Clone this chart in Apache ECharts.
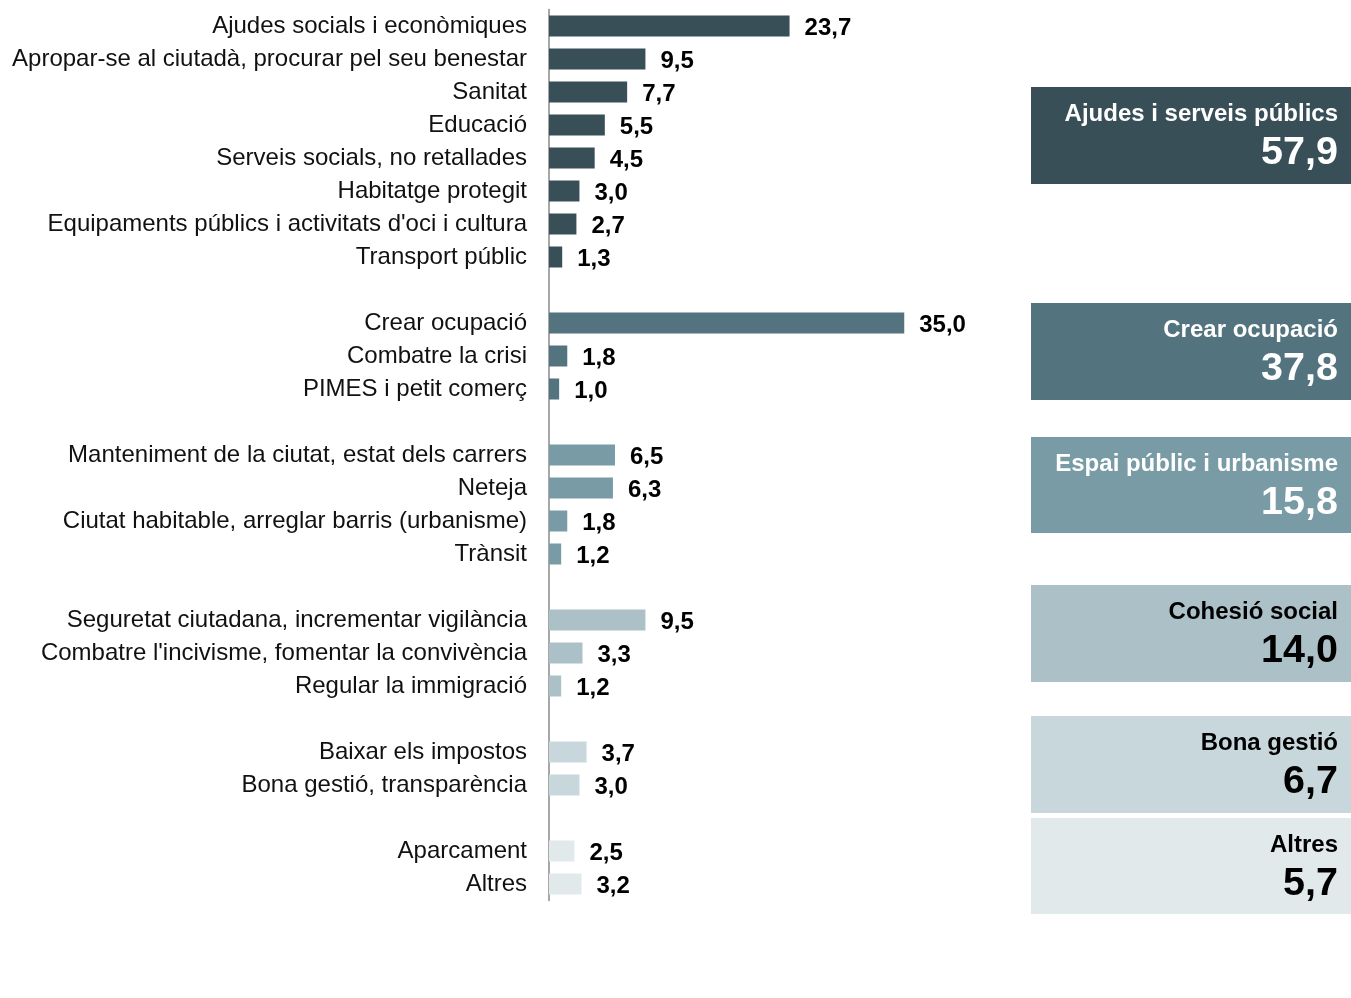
<!DOCTYPE html>
<html>
<head>
<meta charset="utf-8">
<script src="https://cdn.jsdelivr.net/npm/echarts@6/dist/echarts.min.js"></script>
<style>
  html, body { margin: 0; padding: 0; background: #ffffff; }
  #chart { width: 1351px; height: 998px; }
</style>
</head>
<body>
<div id="chart"></div>
<script>
// Motius / temes citats, agrupats per àmbit (percentatges)
const ajudesCats = [
  'Ajudes socials i econòmiques',
  'Apropar-se al ciutadà, procurar pel seu benestar',
  'Sanitat',
  'Educació',
  'Serveis socials, no retallades',
  'Habitatge protegit',
  "Equipaments públics i activitats d'oci i cultura",
  'Transport públic'
];
const ajudesVals = [23.7, 9.5, 7.7, 5.5, 4.5, 3.0, 2.7, 1.3];

const ocupacioCats = ['Crear ocupació', 'Combatre la crisi', 'PIMES i petit comerç'];
const ocupacioVals = [35.0, 1.8, 1.0];

const espaiCats = [
  'Manteniment de la ciutat, estat dels carrers',
  'Neteja',
  'Ciutat habitable, arreglar barris (urbanisme)',
  'Trànsit'
];
const espaiVals = [6.5, 6.3, 1.8, 1.2];

const cohesioCats = [
  'Seguretat ciutadana, incrementar vigilància',
  "Combatre l'incivisme, fomentar la convivència",
  'Regular la immigració'
];
const cohesioVals = [9.5, 3.3, 1.2];

const gestioCats = ['Baixar els impostos', 'Bona gestió, transparència'];
const gestioVals = [3.7, 3.0];

const altresCats = ['Aparcament', 'Altres'];
const altresVals = [2.5, 3.2];

// Totals per àmbit
const groupNames = [
  'Ajudes i serveis públics',
  'Crear ocupació',
  'Espai públic i urbanisme',
  'Cohesió social',
  'Bona gestió',
  'Altres'
];
const groupTotals = [57.9, 37.8, 15.8, 14.0, 6.7, 5.7];

// Estil de cada àmbit
const groupColors = ['#384f57', '#53737e', '#789ba6', '#abc1c7', '#c8d7dc', '#e1e9eb'];
const groupTextColors = ['#ffffff', '#ffffff', '#ffffff', '#000000', '#000000', '#000000'];
const boxTops = [87, 303, 437, 585, 716, 818];
const boxHeights = [97, 97, 96, 97, 97, 96];

const groups = [
  [ajudesCats, ajudesVals],
  [ocupacioCats, ocupacioVals],
  [espaiCats, espaiVals],
  [cohesioCats, cohesioVals],
  [gestioCats, gestioVals],
  [altresCats, altresVals]
];

// Categories with an empty spacer row between groups
const categories = [];
const barData = [];
groups.forEach(function (g, gi) {
  if (gi > 0) {
    categories.push(' '.repeat(gi));
    barData.push({ value: null });
  }
  g[0].forEach(function (c, i) {
    categories.push(c);
    barData.push({ value: g[1][i], itemStyle: { color: groupColors[gi] } });
  });
});

const fmt = function (v) { return v.toFixed(1).replace('.', ','); };

const FONT = '"Liberation Sans", Arial, sans-serif';

const graphics = [];
groupNames.forEach(function (name, i) {
  graphics.push({
    type: 'rect',
    shape: { x: 1031, y: boxTops[i], width: 320, height: boxHeights[i] },
    style: { fill: groupColors[i] },
    silent: true
  });
  graphics.push({
    type: 'text',
    x: 1338, y: boxTops[i] + 27,
    style: {
      text: name, fill: groupTextColors[i], font: 'bold 24px ' + FONT,
      textAlign: 'right', textVerticalAlign: 'middle'
    },
    silent: true
  });
  graphics.push({
    type: 'text',
    x: 1338, y: boxTops[i] + 66,
    style: {
      text: fmt(groupTotals[i]), fill: groupTextColors[i], font: 'bold 39.5px ' + FONT,
      textAlign: 'right', textVerticalAlign: 'middle'
    },
    silent: true
  });
});

const chart = echarts.init(document.getElementById('chart'), null, { renderer: 'canvas' });
chart.setOption({
  animation: false,
  backgroundColor: '#ffffff',
  grid: { left: 549, right: 396, top: 9.5, height: 891, containLabel: false },
  xAxis: {
    type: 'value', min: 0, max: 40,
    show: false
  },
  yAxis: {
    type: 'category',
    data: categories,
    inverse: true,
    axisTick: { show: false },
    axisLine: { show: true, lineStyle: { color: '#8a8a8a', width: 1.5 } },
    axisLabel: {
      margin: 22, color: '#111111', fontSize: 24, fontFamily: FONT,
      padding: [6, 0, 0, 0]
    }
  },
  series: [{
    type: 'bar',
    data: barData,
    barWidth: 21,
    label: {
      show: true, position: 'right', distance: 15, offset: [0, 2],
      color: '#000000', fontWeight: 'bold', fontSize: 24, fontFamily: FONT,
      formatter: function (p) { return p.value == null ? '' : fmt(p.value); }
    }
  }],
  graphic: graphics
});
</script>
</body>
</html>
